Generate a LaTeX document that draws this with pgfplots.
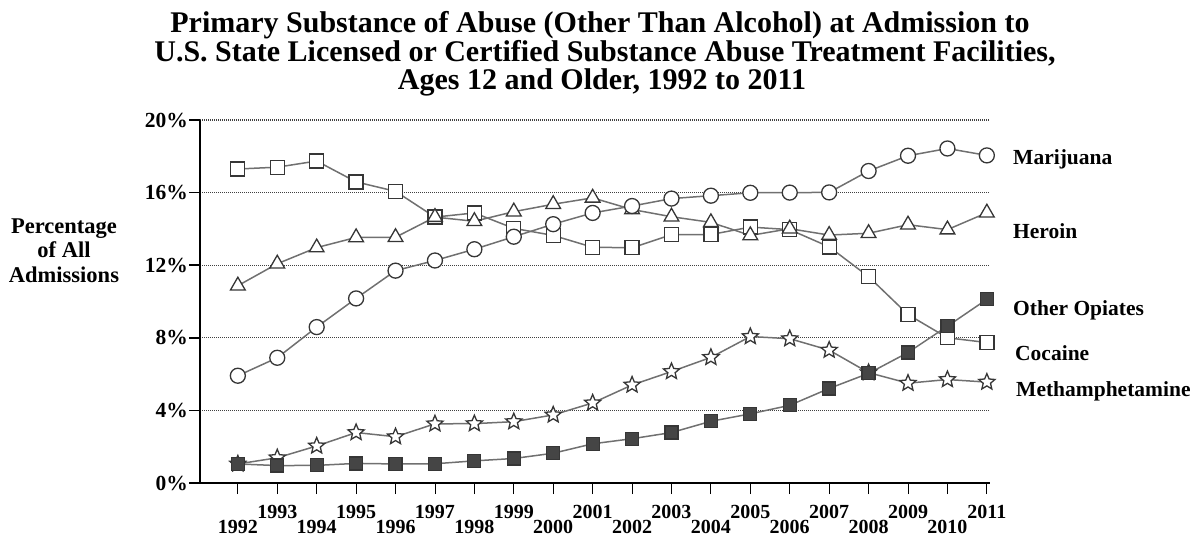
\documentclass[border=0pt]{standalone}
\usepackage{fontspec}
\setmainfont{Liberation Serif}
\usepackage{pgfplots}
\usepackage{pgfplotstable}
\pgfplotsset{compat=1.18}

\definecolor{lineg}{HTML}{707070}
\definecolor{markg}{HTML}{363636}
\definecolor{fillg}{HTML}{454545}
\definecolor{gridg}{HTML}{404040}

% outlined five point star
\pgfdeclareplotmark{ostar}{%
  \pgfpathmoveto{\pgfpointpolar{90}{\pgfplotmarksize}}%
  \pgfpathlineto{\pgfpointpolar{126}{0.45\pgfplotmarksize}}%
  \pgfpathlineto{\pgfpointpolar{162}{\pgfplotmarksize}}%
  \pgfpathlineto{\pgfpointpolar{198}{0.45\pgfplotmarksize}}%
  \pgfpathlineto{\pgfpointpolar{234}{\pgfplotmarksize}}%
  \pgfpathlineto{\pgfpointpolar{270}{0.45\pgfplotmarksize}}%
  \pgfpathlineto{\pgfpointpolar{306}{\pgfplotmarksize}}%
  \pgfpathlineto{\pgfpointpolar{342}{0.45\pgfplotmarksize}}%
  \pgfpathlineto{\pgfpointpolar{18}{\pgfplotmarksize}}%
  \pgfpathlineto{\pgfpointpolar{54}{0.45\pgfplotmarksize}}%
  \pgfpathclose
  \pgfusepathqfillstroke
}

% year, marijuana, heroin, cocaine, other opiates, methamphetamine
\pgfplotstableread{
year  mar   her   coc   opi   met
1992  5.91  10.87 17.30 1.05  1.05
1993  6.90  12.08 17.40 0.96  1.39
1994  8.59  12.97 17.74 0.97  2.04
1995  10.17 13.53 16.59 1.08  2.78
1996  11.70 13.54 16.07 1.05  2.55
1997  12.26 14.65 14.65 1.06  3.26
1998  12.88 14.42 14.88 1.22  3.27
1999  13.57 14.95 14.03 1.35  3.38
2000  14.26 15.36 13.64 1.64  3.75
2001  14.88 15.71 12.99 2.16  4.41
2002  15.26 15.07 12.96 2.44  5.40
2003  15.67 14.67 13.68 2.78  6.14
2004  15.83 14.36 13.69 3.40  6.92
2005  15.99 13.64 14.10 3.81  8.07
2006  16.00 14.01 13.96 4.28  7.95
2007  16.01 13.66 13.01 5.21  7.32
2008  17.19 13.76 11.37 6.04  6.08
2009  18.03 14.23 9.28  7.19  5.50
2010  18.43 13.96 8.00  8.64  5.70
2011  18.05 14.89 7.74  10.12 5.56
}\data

\begin{document}
\begin{tikzpicture}
\useasboundingbox (0,0) rectangle (1196pt,544pt);
\begin{axis}[
  at={(200pt,61pt)}, anchor=south west,
  scale only axis, width=790pt, height=363pt,
  xmin=1991.04, xmax=2011.08, ymin=0, ymax=20,
  clip=false,
  axis x line*=bottom, axis y line*=left,
  axis line style={black, line width=2pt},
  tick align=outside, major tick length=11pt,
  xtick={1993,1995,...,2011},
  extra x ticks={1992,1994,...,2010},
  extra x tick style={xticklabel style={yshift=-15pt}},
  xtick style={black, line width=0.9pt},
  ytick={0,4,...,20},
  yticklabels={0\%,4\%,8\%,12\%,16\%,20\%},
  ytick style={black, line width=1.6pt},
  /pgf/number format/1000 sep={},
  /pgf/number format/assume math mode=true,
  tick label style={font=\bfseries\fontsize{21.5}{21.5}\selectfont, inner sep=0pt},
  xticklabel style={anchor=north, yshift=-11pt, font=\bfseries\fontsize{20}{20}\selectfont},
  yticklabel style={anchor=east, xshift=-1pt},
  ymajorgrids,
  major grid style={gridg, line width=1.3pt, dash pattern=on 1pt off 1pt},
  every axis plot/.append style={lineg, line width=1.5pt},
]
\addplot[mark=square*, mark size=7pt, mark options={draw=markg, fill=white, line width=1.3pt}] table[x=year, y=coc] {\data};
\addplot[mark=triangle*, mark size=8.5pt, mark options={draw=markg, fill=white, line width=1.3pt}] table[x=year, y=her] {\data};
\addplot[mark=*, mark size=7.5pt, mark options={draw=markg, fill=white, line width=1.3pt}] table[x=year, y=mar] {\data};
\addplot[mark=ostar, mark size=8.5pt, mark options={draw=markg, fill=white, line width=1.3pt}] table[x=year, y=met] {\data};
\addplot[mark=square*, mark size=6.5pt, mark options={draw=markg, fill=fillg, line width=1.2pt}] table[x=year, y=opi] {\data};
\end{axis}

% title
\begin{scope}[every node/.style={anchor=base, font=\bfseries\fontsize{30}{30}\selectfont, inner sep=0pt}]
\node at (600pt,511pt) {Primary Substance of Abuse (Other Than Alcohol) at Admission to};
\node at (605pt,482pt) {U.S. State Licensed or Certified Substance Abuse Treatment Facilities,};
\node at (602pt,454pt) {Ages 12 and Older, 1992 to 2011};
\end{scope}

% y axis label
\begin{scope}[every node/.style={anchor=base, font=\bfseries\fontsize{22.5}{22.5}\selectfont, inner sep=0pt}]
\node at (64pt,310pt) {Percentage};
\node at (64pt,286pt) {of All};
\node at (64pt,261pt) {Admissions};
\end{scope}

% series labels
\begin{scope}[every node/.style={anchor=base west, font=\bfseries\fontsize{21.5}{21.5}\selectfont, inner sep=0pt}]
\node at (1013pt,379pt) {Marijuana};
\node at (1013pt,305.7pt) {Heroin};
\node at (1013pt,229pt) {Other Opiates};
\node at (1015pt,184pt) {Cocaine};
\node at (1016pt,147.3pt) {Methamphetamine};
\end{scope}
\end{tikzpicture}
\end{document}
